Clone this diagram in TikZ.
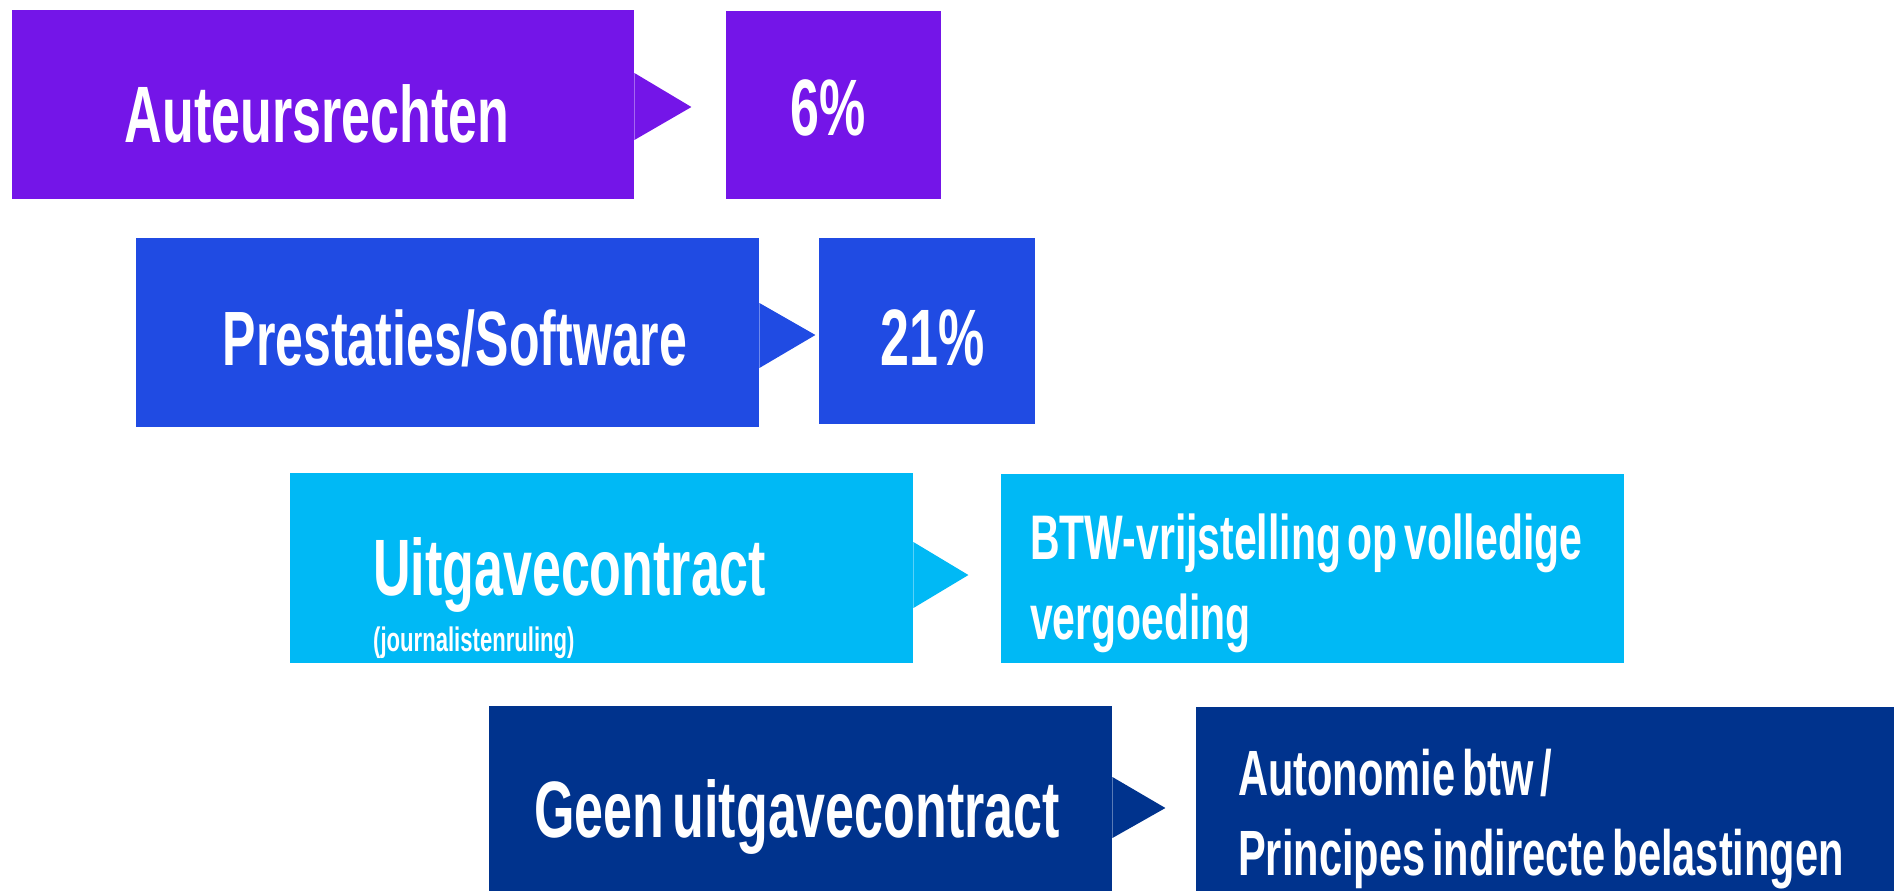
\documentclass[tikz,border=0pt]{standalone}
\usepackage{fontspec}
\setmainfont{Liberation Sans}[FakeStretch=0.65, WordSpace=0.6]
\usetikzlibrary{calc}
\definecolor{paars}{HTML}{7415E8}
\definecolor{blauw}{HTML}{204BE3}
\definecolor{cyaan}{HTML}{00B9F5}
\definecolor{marine}{HTML}{00338D}
\tikzset{
  vak/.style={anchor=north west, inner sep=0pt, minimum height=189pt},
  titel/.style={text=white, inner sep=0pt, font=\bfseries\fontsize{#1}{#1}\selectfont},
  titel/.default=80
}
\begin{document}
\begin{tikzpicture}[x=1pt,y=-1pt]
  \useasboundingbox (0,0) rectangle (1894,891);
  % vakken
  \node[vak, fill=paars, minimum width=622pt] (auteur) at (12,10) {};
  \node[vak, fill=paars, minimum width=215pt, minimum height=188pt] (zes) at (726,11) {};
  \node[vak, fill=blauw, minimum width=623pt] (prest) at (136,238) {};
  \node[vak, fill=blauw, minimum width=216pt, minimum height=186pt] (eenentwintig) at (819,238) {};
  \node[vak, fill=cyaan, minimum width=623pt, minimum height=190pt] (uitgave) at (290,473) {};
  \node[vak, fill=cyaan, minimum width=623pt] (vrijst) at (1001,474) {};
  \node[vak, fill=marine, minimum width=623pt, minimum height=185pt] (geen) at (489,706) {};
  \node[vak, fill=marine, minimum width=698pt, minimum height=184pt] (autonomie) at (1196,707) {};
  % pijlpunten
  \fill[paars] ($(auteur.north east)+(0,63)$) -- ++(57,34) -- ++(-57,33) -- cycle;
  \fill[blauw] ($(prest.north east)+(0,65)$) -- ++(56,32) -- ++(-56,33) -- cycle;
  \fill[cyaan] ($(uitgave.north east)+(0,69)$) -- ++(55,33) -- ++(-55,33) -- cycle;
  \fill[marine] ($(geen.north east)+(0,71)$) -- ++(53,31) -- ++(-53,30) -- cycle;
  % teksten
  \node[titel, anchor=base] (auteurtxt) at (317,142) {Auteursrechten};
  \node[titel, anchor=base] (zestxt) at (828,135) {6\%};
  \node[titel=77, anchor=base] (presttxt) at (455,365) {Prestaties/Software};
  \node[titel, anchor=base] (eenentwintigtxt) at (933,365) {21\%};
  \node[titel, anchor=base west] (uitgavetxt) at (373,595) {Uitgavecontract};
  \node[titel=34, anchor=base west] (rulingtxt) at (373,651) {(journalistenruling)};
  \node[titel=63, anchor=base west] (vrijsta) at (1030,559) {BTW-vrijstelling op volledige};
  \node[titel=63, anchor=base west] (vrijstb) at (1030,639) {vergoeding};
  \node[titel, anchor=base] (geentxt) at (797,837) {Geen uitgavecontract};
  \node[titel=64, anchor=base west] (autonomiea) at (1238,795) {Autonomie btw /};
  \node[titel=64, anchor=base west] (autonomieb) at (1238,875) {Principes indirecte belastingen};
\end{tikzpicture}
\end{document}
